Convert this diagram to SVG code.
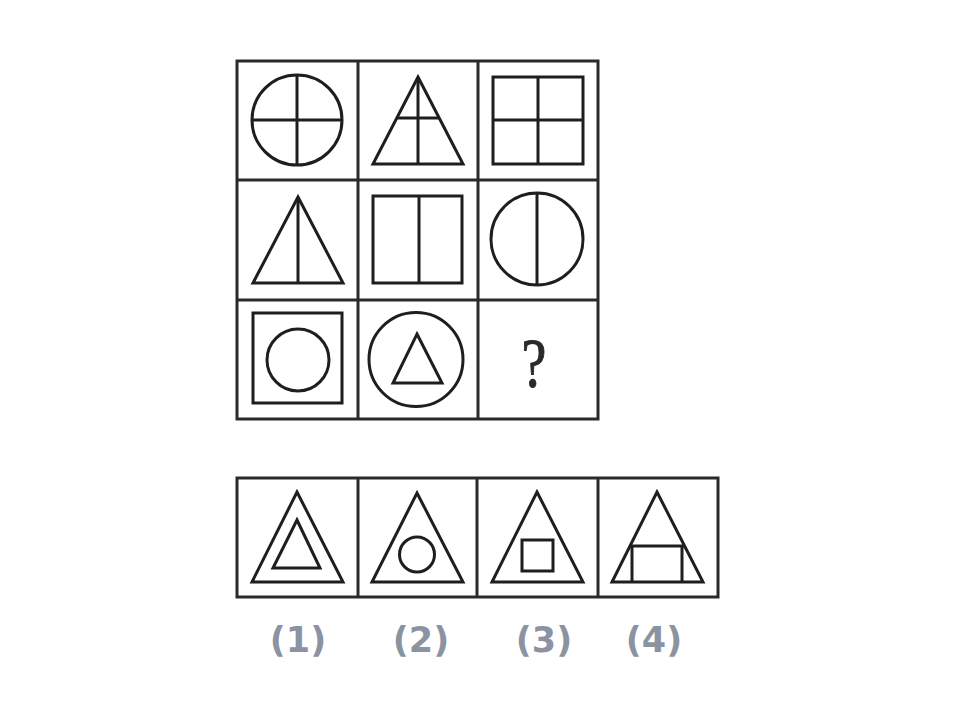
<svg xmlns="http://www.w3.org/2000/svg" width="960" height="720" viewBox="0 0 960 720">
<style>
.s{fill:none;stroke:#1e1e1e;stroke-width:3;stroke-linejoin:miter}
.g{fill:none;stroke:#2a2a2a;stroke-width:3}
.lbl{font-family:"DejaVu Sans",sans-serif;font-weight:bold;font-size:35px;fill:#8b93a3;text-anchor:middle}
.q{font-family:"Liberation Serif",serif;font-size:56px;fill:#2a2a2a;stroke:#2a2a2a;stroke-width:0.8;text-anchor:middle}
</style>
<rect width="960" height="720" fill="#ffffff"/>
<g id="grid">
<rect class="g" x="237" y="61" width="361" height="358"/>
<line class="g" x1="358" y1="61" x2="358" y2="419"/>
<line class="g" x1="478" y1="61" x2="478" y2="419"/>
<line class="g" x1="237" y1="180" x2="598" y2="180"/>
<line class="g" x1="237" y1="300" x2="598" y2="300"/>
</g>
<g id="c1">
<circle class="s" cx="297" cy="120" r="45"/>
<line class="s" x1="297" y1="75" x2="297" y2="165"/>
<line class="s" x1="252" y1="120" x2="342" y2="120"/>
</g>
<g id="c2">
<polygon class="s" points="418,77 463,164 373,164"/>
<line class="s" x1="418" y1="77" x2="418" y2="164"/>
<line class="s" x1="396.5" y1="118" x2="439.5" y2="118"/>
</g>
<g id="c3">
<rect class="s" x="493" y="77" width="90" height="87"/>
<line class="s" x1="538" y1="77" x2="538" y2="164"/>
<line class="s" x1="493" y1="120" x2="583" y2="120"/>
</g>
<g id="c4">
<polygon class="s" points="298,197 343,283 253,283"/>
<line class="s" x1="298" y1="197" x2="298" y2="283"/>
</g>
<g id="c5">
<rect class="s" x="373" y="196" width="89" height="87"/>
<line class="s" x1="419" y1="196" x2="419" y2="283"/>
</g>
<g id="c6">
<circle class="s" cx="537" cy="239" r="46"/>
<line class="s" x1="537" y1="193" x2="537" y2="285"/>
</g>
<g id="c7">
<rect class="s" x="253" y="313" width="89" height="90"/>
<circle class="s" cx="298" cy="360" r="31"/>
</g>
<g id="c8">
<circle class="s" cx="416" cy="359.5" r="47"/>
<polygon class="s" points="417,334 442,383 393,383"/>
</g>
<g id="c9">
<text class="q" transform="translate(534,387) scale(1,1.25)" x="0" y="0">?</text>
</g>
<g id="answers">
<rect class="g" x="237" y="478" width="481" height="119"/>
<line class="g" x1="358" y1="478" x2="358" y2="597"/>
<line class="g" x1="477" y1="478" x2="477" y2="597"/>
<line class="g" x1="598" y1="478" x2="598" y2="597"/>
</g>
<g id="a1">
<polygon class="s" points="297,492 343,582 252,582"/>
<polygon class="s" points="297,520 320,568 273,568"/>
<text class="lbl" x="298" y="652">(1)</text>
</g>
<g id="a2">
<polygon class="s" points="417,493 463,582 372,582"/>
<circle class="s" cx="417" cy="554.5" r="17.5"/>
<text class="lbl" x="421" y="652">(2)</text>
</g>
<g id="a3">
<polygon class="s" points="537,492 583,582 492,582"/>
<rect class="s" x="522" y="540" width="31" height="31"/>
<text class="lbl" x="544" y="652">(3)</text>
</g>
<g id="a4">
<polygon class="s" points="657,492 703,582 612,582"/>
<line class="s" x1="630" y1="546" x2="684" y2="546"/>
<line class="s" x1="632" y1="546" x2="632" y2="582"/>
<line class="s" x1="682" y1="546" x2="682" y2="582"/>
<text class="lbl" x="654" y="652">(4)</text>
</g>
</svg>
